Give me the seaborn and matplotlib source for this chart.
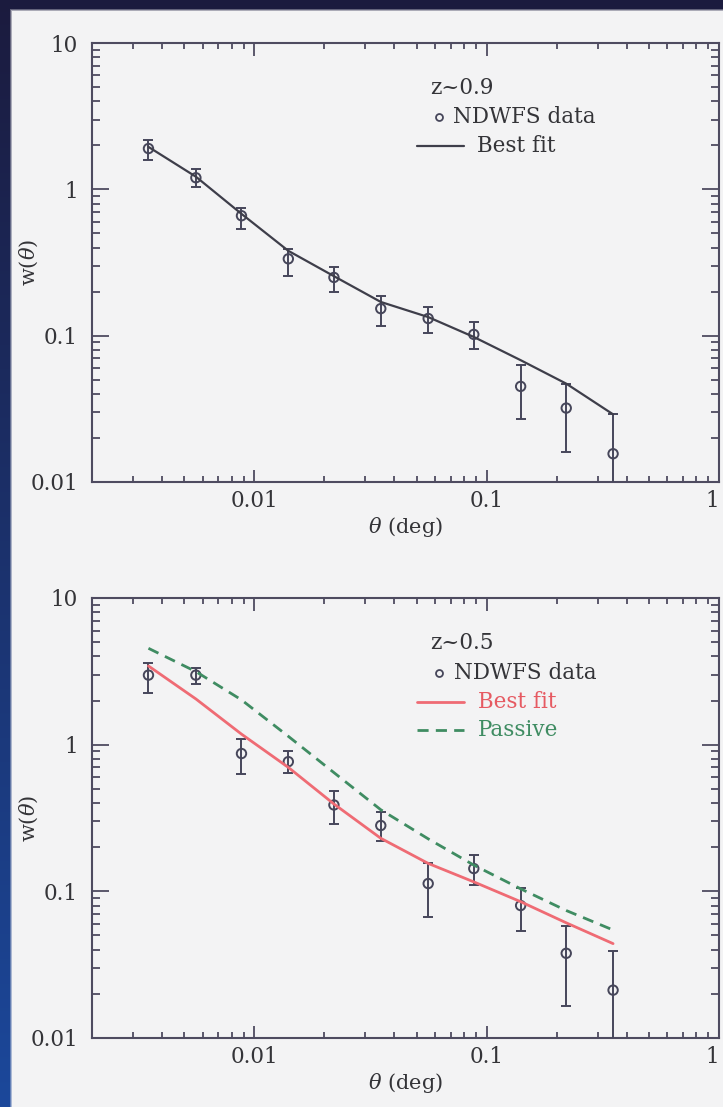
import numpy as np
import matplotlib
matplotlib.use("Agg")
import matplotlib.pyplot as plt
import matplotlib.transforms as mtransforms
from matplotlib.lines import Line2D
from matplotlib.ticker import FixedLocator, LogLocator, FuncFormatter, NullFormatter
import seaborn as sns

# Angular bins (deg)
theta = [0.0035, 0.0056, 0.0088, 0.014, 0.022, 0.035, 0.056, 0.088, 0.14, 0.22, 0.35]

# z~0.9 sample: w(theta), asymmetric errors, best-fit model
w_z09 = [1.90, 1.20, 0.66, 0.335, 0.25, 0.153, 0.131, 0.102, 0.045, 0.032, 0.0156]
w_z09_up = [0.29, 0.18, 0.09, 0.058, 0.045, 0.033, 0.026, 0.022, 0.018, 0.015, 0.0137]
w_z09_lo = [0.32, 0.17, 0.125, 0.078, 0.05, 0.037, 0.026, 0.021, 0.018, 0.016, 0.0156]
fit_z09 = [1.95, 1.22, 0.68, 0.38, 0.255, 0.17, 0.134, 0.098, 0.068, 0.047, 0.029]

# z~0.5 sample: w(theta), asymmetric errors, best-fit and passive models
w_z05 = [2.98, 2.98, 0.87, 0.766, 0.388, 0.281, 0.113, 0.143, 0.080, 0.0378, 0.0212]
w_z05_up = [0.61, 0.34, 0.22, 0.144, 0.095, 0.065, 0.042, 0.034, 0.025, 0.0204, 0.0177]
w_z05_lo = [0.72, 0.39, 0.235, 0.128, 0.098, 0.059, 0.0465, 0.033, 0.0263, 0.0214, 0.0212]
fit_z05 = [3.44, 2.05, 1.18, 0.70, 0.394, 0.23, 0.155, 0.116, 0.085, 0.061, 0.044]
passive_z05 = [4.54, 3.15, 2.02, 1.14, 0.645, 0.36, 0.228, 0.151, 0.104, 0.074, 0.0545]

x_ticks = [0.01, 0.1, 1]
y_ticks = [0.01, 0.1, 1, 10]

AXC = "#4e4b60"
TXT = "#343438"
DATA = "#46465a"
FIT = "#3e3e4a"
RED = "#ef6b74"
RED_T = "#e65a62"
GREEN = "#3f8c62"

sns.set_theme(style="ticks")
plt.rcParams["font.family"] = ["DejaVu Serif"]
plt.rcParams["mathtext.fontset"] = "dejavuserif"

W, H = 723, 1107
fig = plt.figure(figsize=(W / 100, H / 100), dpi=100)

# Slide backdrop: light panel with a dark frame on the top and left edges
bg = fig.add_axes([0, 0, 1, 1], zorder=-10)
yy, xx = np.mgrid[0:H, 0:W]
t = (yy / (H - 1))[..., None]
frame = (1 - t) * np.array([27, 27, 62]) / 255 + t * np.array([28, 72, 155]) / 255
panel = np.array([243, 243, 244]) / 255
m = np.maximum(np.clip((12 - xx) / 3.0, 0, 1), np.clip((11 - yy) / 3.0, 0, 1))[..., None]
img = m * frame + (1 - m) * panel
bg.imshow(img, aspect="auto", extent=[0, 1, 0, 1], interpolation="bilinear")
bg.axis("off")

left, width = 92 / W, 627 / W
ax_top = fig.add_axes([left, 1 - 482 / H, width, 439 / H])
ax_bot = fig.add_axes([left, 1 - 1038 / H, width, 440 / H])

fmt = FuncFormatter(lambda v, p: f"{v:g}")
FS_TICK = 15.5
FS_KEY = 15.5
FS_LAB = 15


def style_axes(ax):
    ax.set_xscale("log")
    ax.set_yscale("log")
    ax.set_xlim(0.002, 1)
    ax.set_ylim(0.01, 10)
    ax.set_facecolor("none")
    for s in ax.spines.values():
        s.set_color(AXC)
        s.set_linewidth(1.5)
    ax.xaxis.set_major_locator(FixedLocator(x_ticks))
    ax.yaxis.set_major_locator(FixedLocator(y_ticks))
    ax.xaxis.set_minor_locator(LogLocator(base=10, subs=np.arange(2, 10) * 1.0, numticks=30))
    ax.yaxis.set_minor_locator(LogLocator(base=10, subs=np.arange(2, 10) * 1.0, numticks=30))
    ax.xaxis.set_major_formatter(fmt)
    ax.yaxis.set_major_formatter(fmt)
    ax.xaxis.set_minor_formatter(NullFormatter())
    ax.yaxis.set_minor_formatter(NullFormatter())
    ax.tick_params(which="both", direction="in", top=True, right=True,
                   color=AXC, width=1.3, labelcolor=TXT, labelsize=FS_TICK)
    ax.tick_params(axis="x", which="major", length=9, pad=6)
    ax.tick_params(axis="x", which="minor", length=4.5)
    ax.tick_params(axis="y", which="major", length=12, pad=10)
    ax.tick_params(axis="y", which="minor", length=5.5)
    ax.set_xlabel(r"$\theta$ (deg)", fontsize=FS_LAB, color=TXT, labelpad=2)
    ax.set_ylabel(r"w($\theta$)", fontsize=FS_LAB, color=TXT)
    ax.yaxis.set_label_coords(-0.083, 0.5)
    # keep the label of the last x tick inside the figure edge
    ax.figure.canvas.draw()
    shift = mtransforms.ScaledTranslation(-5 / 72, 0, ax.figure.dpi_scale_trans)
    for tick in ax.xaxis.get_major_ticks():
        if np.isclose(tick.get_loc(), 1.0):
            tick.label1.set_transform(tick.label1.get_transform() + shift)


def draw_data(ax, w, lo, up):
    ax.errorbar(theta, w, yerr=[lo, up], fmt="none", ecolor=DATA,
                elinewidth=1.4, capsize=3.9, capthick=1.4, zorder=3)
    sns.scatterplot(x=theta, y=w, ax=ax, marker="o", s=46, facecolor="none",
                    edgecolor=DATA, linewidth=1.4, zorder=4)


def key_text(ax, x, y, s, color=TXT):
    ax.text(x, y, s, transform=ax.transAxes, fontsize=FS_KEY, color=color,
            ha="left", va="center")


def key_line(ax, y, color, **kw):
    ax.add_line(Line2D([0.518, 0.594], [y, y], transform=ax.transAxes,
                       color=color, **kw))


def key_marker(ax, y):
    ax.add_line(Line2D([0.554], [y], transform=ax.transAxes, marker="o",
                       markersize=5, markerfacecolor="none",
                       markeredgecolor=DATA, markeredgewidth=1.3, linestyle="none"))


# Upper panel: z~0.9
style_axes(ax_top)
draw_data(ax_top, w_z09, w_z09_lo, w_z09_up)
sns.lineplot(x=theta, y=fit_z09, ax=ax_top, color=FIT, linewidth=1.6,
             estimator=None, sort=False, zorder=5)
key_text(ax_top, 0.539, 0.898, "z~0.9")
key_marker(ax_top, 0.831)
key_text(ax_top, 0.576, 0.831, "NDWFS data")
key_line(ax_top, 0.765, FIT, linewidth=1.6)
key_text(ax_top, 0.614, 0.765, "Best fit")

# Lower panel: z~0.5
style_axes(ax_bot)
draw_data(ax_bot, w_z05, w_z05_lo, w_z05_up)
sns.lineplot(x=theta, y=fit_z05, ax=ax_bot, color=RED, linewidth=2.0,
             estimator=None, sort=False, zorder=5)
sns.lineplot(x=theta, y=passive_z05, ax=ax_bot, color=GREEN, linewidth=2.0,
             linestyle=(0, (4, 2.6)), estimator=None, sort=False, zorder=5)
key_text(ax_bot, 0.539, 0.898, "z~0.5")
key_marker(ax_bot, 0.830)
key_text(ax_bot, 0.578, 0.830, "NDWFS data")
key_line(ax_bot, 0.764, RED, linewidth=2.0)
key_text(ax_bot, 0.616, 0.764, "Best fit", color=RED_T)
key_line(ax_bot, 0.700, GREEN, linewidth=2.0, linestyle=(0, (4, 2.6)))
key_text(ax_bot, 0.616, 0.700, "Passive", color=GREEN)

for ax in (ax_top, ax_bot):
    leg = ax.get_legend()
    if leg is not None:
        leg.remove()

fig.savefig("out.png", dpi=100)
